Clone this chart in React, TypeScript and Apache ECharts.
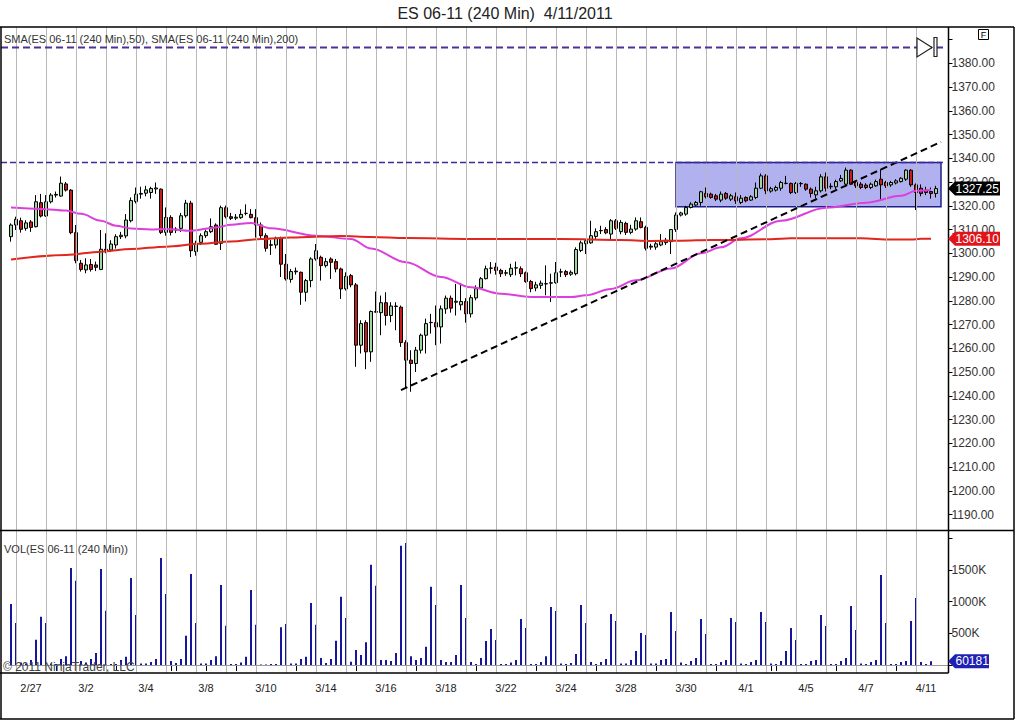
import React, { useEffect, useRef } from 'react';
import * as echarts from 'echarts';

const FONT = '"Liberation Sans", Arial, sans-serif';

// 240-minute bars, index 0..185
const opens = [
  1307.0,1311.9,1313.7,1310.5,1313.2,1311.2,1321.3,1315.7,1321.7,1324.5,
  1324.1,1329.2,1326.6,1308.7,1295.8,1293.0,1295.3,1295.1,1293.2,1301.7,
  1301.4,1303.5,1307.0,1307.3,1313.7,1321.8,1324.9,1325.3,1325.6,1327.1,
  1327.0,1308.8,1315.1,1309.8,1310.5,1315.8,1321.1,1300.7,1304.6,1307.4,
  1309.1,1311.9,1304.2,1319.2,1315.4,1314.8,1315.0,1316.8,1316.4,1315.0,
  1311.9,1307.4,1303.6,1303.5,1306.3,1295.4,1289.0,1292.5,1292.0,1283.6,
  1288.5,1297.6,1298.3,1294.8,1297.6,1296.5,1293.4,1285.0,1290.6,1286.7,
  1261.3,1270.8,1258.5,1275.5,1275.0,1279.2,1273.8,1277.6,1277.3,1262.4,
  1255.0,1253.6,1259.2,1265.5,1270.8,1270.8,1269.0,1276.6,1281.1,1279.4,
  1278.3,1279.7,1274.5,1281.2,1285.4,1289.3,1293.7,1294.2,1292.8,1291.6,
  1291.0,1293.8,1293.5,1291.8,1288.1,1285.4,1286.5,1287.2,1287.4,1287.6,
  1292.1,1292.3,1291.2,1291.4,1301.2,1304.0,1304.4,1307.1,1309.5,1310.0,
  1308.1,1313.7,1309.1,1312.6,1308.8,1310.2,1313.3,1310.9,1303.0,1302.6,
  1303.5,1304.5,1304.9,1310.0,1316.1,1316.5,1319.3,1320.3,1321.4,1325.2,
  1324.9,1324.2,1322.4,1325.2,1322.8,1323.8,1321.4,1323.5,1322.4,1323.5,
  1327.4,1332.6,1326.2,1326.6,1327.4,1329.4,1329.4,1325.6,1329.4,1329.1,
  1327.0,1324.6,1326.3,1332.2,1328.0,1328.0,1330.5,1329.1,1335.0,1329.8,
  1329.1,1328.7,1327.7,1328.4,1331.2,1329.8,1328.8,1329.6,1330.2,1331.2,
  1335.0,1328.8,1327.4,1326.6,1326.0,1325.2,
];
const closes = [
  1311.9,1314.3,1310.1,1312.8,1310.9,1321.7,1315.7,1321.7,1324.5,1324.8,
  1329.5,1326.6,1308.7,1296.9,1293.2,1295.1,1293.2,1294.1,1301.7,1301.2,
  1303.9,1307.0,1307.6,1314.0,1322.2,1324.9,1325.2,1326.7,1327.3,1327.5,
  1308.8,1315.1,1308.8,1310.2,1315.8,1321.1,1301.1,1304.2,1307.4,1309.1,
  1311.2,1303.8,1319.2,1315.4,1314.7,1315.2,1316.4,1316.8,1315.0,1311.9,
  1307.4,1302.1,1303.4,1306.3,1295.4,1289.2,1292.3,1292.2,1283.6,1288.5,
  1297.6,1301.1,1294.8,1296.5,1296.2,1293.4,1285.0,1290.3,1286.7,1261.3,
  1270.4,1258.5,1275.5,1275.2,1279.2,1273.8,1277.8,1277.8,1262.4,1255.0,
  1253.6,1259.2,1265.5,1270.4,1270.9,1269.0,1276.6,1281.1,1276.9,1279.8,
  1279.7,1274.5,1281.3,1285.1,1289.3,1293.5,1293.8,1292.8,1291.4,1291.8,
  1293.7,1293.9,1291.4,1288.1,1285.1,1286.7,1287.4,1287.1,1287.6,1291.8,
  1292.2,1291.0,1292.0,1301.6,1304.4,1305.3,1307.4,1309.1,1309.6,1308.6,
  1313.7,1310.5,1313.0,1308.8,1310.2,1313.7,1310.9,1302.1,1302.6,1304.0,
  1304.9,1305.5,1310.0,1316.1,1317.0,1319.3,1320.7,1321.4,1325.9,1323.8,
  1323.5,1322.8,1324.9,1323.2,1324.2,1322.1,1323.2,1322.1,1323.8,1327.4,
  1332.6,1326.3,1327.2,1327.7,1329.8,1329.5,1325.6,1329.4,1329.3,1327.0,
  1325.2,1326.3,1332.2,1327.4,1328.2,1330.2,1331.5,1335.0,1329.1,1328.4,
  1327.7,1327.7,1329.1,1330.2,1328.8,1328.4,1329.8,1330.5,1331.6,1335.0,
  1328.8,1325.6,1325.2,1325.6,1325.2,1327.25,
];
const lows = [
  1304.9,1309.8,1308.7,1309.5,1309.0,1310.9,1315.1,1315.4,1321.0,1323.5,
  1323.8,1326.0,1308.0,1295.8,1292.3,1291.6,1292.3,1292.5,1292.9,1300.0,
  1300.5,1302.0,1306.0,1306.3,1313.0,1321.0,1323.0,1324.0,1323.0,1325.0,
  1308.1,1307.4,1307.5,1308.5,1309.0,1315.0,1298.4,1299.0,1303.5,1306.5,
  1308.5,1303.5,1301.4,1314.7,1314.0,1314.0,1314.5,1316.0,1314.7,1306.6,
  1306.3,1300.7,1299.3,1302.0,1290.0,1288.5,1287.6,1291.0,1278.3,1279.7,
  1285.7,1296.9,1288.5,1294.0,1289.2,1292.0,1280.8,1284.3,1285.7,1252.2,
  1257.8,1251.2,1254.3,1275.0,1265.5,1269.6,1271.0,1267.6,1260.6,1243.1,
  1241.7,1250.0,1257.8,1257.8,1266.2,1261.3,1262.0,1274.5,1275.0,1273.8,
  1276.0,1270.8,1273.0,1280.2,1285.0,1289.0,1291.4,1291.0,1290.0,1290.5,
  1290.0,1290.7,1290.0,1287.6,1283.6,1284.0,1285.0,1282.3,1279.5,1287.2,
  1290.0,1290.0,1290.5,1290.7,1300.5,1299.7,1304.0,1306.0,1308.1,1308.0,
  1305.3,1309.8,1308.0,1307.7,1308.0,1309.5,1310.5,1301.2,1301.5,1301.5,
  1303.0,1303.5,1299.7,1309.0,1315.5,1315.8,1318.9,1319.8,1320.0,1323.1,
  1323.0,1322.0,1321.5,1322.5,1322.0,1320.8,1320.7,1321.5,1322.0,1322.8,
  1327.0,1324.9,1325.5,1326.0,1326.3,1329.0,1324.9,1325.0,1328.0,1326.3,
  1323.5,1323.0,1325.6,1326.0,1327.0,1327.0,1330.0,1328.8,1328.7,1327.5,
  1327.0,1327.0,1327.0,1328.0,1322.1,1327.5,1328.0,1329.0,1329.8,1330.5,
  1328.0,1318.2,1324.0,1324.5,1323.0,1323.5,
];
const highs = [
  1312.6,1315.4,1315.0,1313.9,1314.0,1324.5,1325.0,1324.5,1325.3,1326.0,
  1332.3,1330.0,1327.0,1311.9,1297.2,1297.9,1297.6,1296.5,1309.8,1308.4,
  1305.5,1308.0,1309.0,1316.5,1323.5,1327.7,1328.0,1328.4,1328.0,1329.8,
  1327.3,1319.3,1316.0,1311.0,1317.0,1322.5,1322.1,1305.3,1308.4,1310.0,
  1314.7,1312.6,1320.1,1320.1,1317.0,1316.5,1318.5,1320.6,1318.6,1318.6,
  1313.0,1308.4,1305.6,1307.0,1307.0,1299.7,1293.4,1294.0,1292.3,1289.2,
  1298.3,1303.9,1299.0,1298.0,1298.3,1297.6,1294.0,1292.0,1291.3,1287.5,
  1271.8,1271.8,1275.9,1283.9,1282.2,1283.6,1279.4,1279.4,1278.0,1263.4,
  1259.2,1260.6,1266.2,1272.5,1274.5,1278.0,1278.0,1282.2,1282.2,1287.1,
  1287.5,1281.1,1282.5,1286.5,1290.0,1294.8,1296.3,1296.0,1293.5,1293.0,
  1295.6,1296.5,1294.5,1292.3,1288.8,1288.0,1288.5,1294.9,1291.4,1296.3,
  1293.5,1293.0,1292.8,1302.5,1305.3,1306.0,1313.7,1310.5,1311.6,1311.0,
  1314.4,1314.4,1314.0,1313.3,1312.0,1315.1,1315.1,1311.6,1304.0,1305.0,
  1308.1,1306.5,1310.2,1317.2,1317.5,1320.0,1321.5,1322.0,1326.3,1327.7,
  1325.5,1325.0,1326.0,1325.8,1325.0,1325.6,1324.5,1324.0,1324.5,1329.8,
  1333.6,1333.3,1328.0,1328.5,1330.5,1332.6,1329.8,1330.0,1330.0,1329.4,
  1327.7,1328.0,1333.3,1334.0,1329.5,1331.0,1333.0,1336.1,1335.4,1330.5,
  1330.0,1329.5,1329.8,1331.0,1335.4,1330.5,1330.5,1331.2,1332.0,1335.4,
  1335.4,1329.4,1329.0,1328.0,1327.7,1328.4,
];
// volume in thousands of contracts
const volumesK = [
  963,663,40,25,80,400,763,663,25,15,
  95,140,1531,1331,63,40,95,190,1515,857,
  15,15,80,130,1373,789,25,25,47,95,
  1688,1120,63,30,95,463,1436,663,25,25,
  80,140,1262,620,15,15,40,130,1183,636,
  10,10,15,15,594,647,25,25,95,130,
  978,636,110,30,95,384,1078,742,53,237,
  158,358,1583,1252,80,80,63,190,1883,1925,
  140,80,110,289,1236,947,80,47,47,158,
  1262,742,47,15,110,379,568,395,15,15,
  40,80,726,584,15,15,47,140,915,852,
  25,15,30,174,947,663,47,15,47,95,
  805,694,25,25,80,221,505,473,25,25,
  80,95,836,536,40,15,63,110,726,489,
  15,15,47,80,742,678,25,15,47,80,
  836,678,25,15,63,221,584,395,15,15,
  63,80,789,615,15,15,63,110,931,552,
  25,15,47,80,1420,663,15,15,47,63,
  694,1057,47,15,60.181,null,
];
// moving averages: [bar index, value]
const sma50 = [
  [0,1319.3],[6,1318.7],[11,1318.0],[14,1316.6],[18,1313.7],[21,1311.6],[24,1310.4],
  [28,1310.0],[31,1310.2],[36,1309.5],[41,1310.9],[44,1312.0],[48,1312.8],[52,1310.5],
  [61,1307.4],[68,1306.0],[72,1302.0],[79,1296.2],[86,1290.0],[92,1285.7],[98,1283.0],
  [104,1281.6],[112,1281.6],[115,1282.3],[120,1285.0],[125,1288.6],[132,1293.6],
  [138,1300.0],[142,1302.5],[146,1306.3],[154,1313.7],[163,1319.2],[171,1321.3],
  [178,1324.2],[181,1326.3],[184,1326.6],
];
const sma200 = [
  [0,1297.4],[11,1299.3],[18,1300.7],[24,1301.8],[31,1302.8],[38,1304.0],[44,1305.0],
  [50,1306.0],[56,1306.7],[66,1307.3],[72,1306.9],[79,1306.4],[92,1306.0],[110,1306.0],
  [122,1305.6],[128,1305.2],[134,1305.3],[140,1305.6],[152,1305.9],[156,1306.3],
  [170,1306.3],[176,1305.8],[180,1305.8],[182,1306.1],[184,1306.1],
];
const xLabelIdx = [4,15,27,39,51,63,75,87,99,111,123,135,147,159,171,183];
const xLabelText = ['2/27','3/2','3/4','3/8','3/10','3/14','3/16','3/18','3/22','3/24','3/28','3/30','4/1','4/5','4/7','4/11'];
const xTickIdx = [9,21,32,33,39,45,57,69,81,91,93,105,111,117,129,141,152,153,165,177];
const dayLineIdx = [1,7,13,19,25,31,37,43,49,55,61,67,73,79,85,91,97,103,109,115,121,127,133,139,145,151,157,163,169,175,181];
const priceLabels = [1190,1200,1210,1220,1230,1240,1250,1260,1270,1280,1290,1300,1310,1320,1330,1340,1350,1360,1370,1380];
const volLabels = [500000, 1000000, 1500000];

const upperLevel = 1386.6;
const resistanceLevel = 1338.2;
const boxRange = { start: 133, end: 186, top: 1338.2, bottom: 1319.6 };
const trendFrom = [78, 1242.4];
const trendTo = [186, 1346.9];
const sma200Last = 1306.1;

const N = 188;
const cats = Array.from({ length: N }, (_, i) => String(i));
const candleData = opens.map((o, i) => [o, closes[i], lows[i], highs[i]]);
const volData = volumesK.map((v) => (v == null ? null : Math.round(v * 1000)));
const labelMap = new Map(xLabelIdx.map((idx, k) => [idx, xLabelText[k]]));
const tickSet = new Set(xTickIdx);
const lastPrice = closes[closes.length - 1];
const lastVolume = volData.filter((v) => v != null).slice(-1)[0] as number;

const noLabel = { show: false };

function buildOption(): any {
  return {
    animation: false,
    backgroundColor: '#ffffff',
    textStyle: { fontFamily: FONT },
    grid: [
      { left: 8.5, top: 27, width: 940, height: 503 },
      { left: 8.5, top: 531, width: 940, height: 142 },
    ],
    xAxis: [
      { type: 'category', gridIndex: 0, data: cats, boundaryGap: true, show: false },
      {
        type: 'category', gridIndex: 1, data: cats, boundaryGap: true,
        axisLine: { show: false },
        axisTick: { show: true, alignWithLabel: true, length: 6, interval: (i: number) => tickSet.has(i), lineStyle: { color: '#000', width: 1 } },
        axisLabel: {
          interval: (i: number) => labelMap.has(i),
          formatter: (_v: string, i: number) => labelMap.get(i) ?? '',
          fontSize: 11, color: '#222', margin: 9, fontFamily: FONT,
        },
        splitLine: { show: false },
      },
    ],
    yAxis: [
      {
        type: 'value', gridIndex: 0, position: 'right', min: 1183.49, max: 1395.28,
        minInterval: 10, maxInterval: 10,
        axisLine: { show: false },
        axisTick: { show: true, length: 4, lineStyle: { color: '#000' } },
        axisLabel: {
          showMinLabel: false, showMaxLabel: false, margin: 3, fontSize: 12, color: '#333', fontFamily: FONT,
          formatter: (v: number) => (priceLabels.includes(Math.round(v)) && Math.abs(v - Math.round(v)) < 1e-6 ? v.toFixed(2) : ''),
        },
        splitLine: { show: false },
      },
      {
        type: 'value', gridIndex: 1, position: 'right', min: -126000, max: 2114000,
        minInterval: 500000, maxInterval: 500000,
        axisLine: { show: false },
        axisTick: { show: true, length: 4, lineStyle: { color: '#000' } },
        axisLabel: {
          showMinLabel: false, showMaxLabel: false, margin: 3, fontSize: 12, color: '#333', fontFamily: FONT,
          formatter: (v: number) => (volLabels.includes(v) ? `${v / 1000}K` : ''),
        },
        splitLine: { show: false },
      },
    ],
    series: [
      {
        type: 'line', xAxisIndex: 0, yAxisIndex: 0, data: [], z: 1, silent: true,
        markLine: {
          silent: true, symbol: ['none', 'none'], label: noLabel, animation: false,
          lineStyle: { color: '#b9b9b9', width: 1, type: 'solid' },
          emphasis: { disabled: true },
          data: dayLineIdx.map((i) => ({ xAxis: i })),
        },
      },
      {
        type: 'line', xAxisIndex: 1, yAxisIndex: 1, data: [], z: 1, silent: true,
        markLine: {
          silent: true, symbol: ['none', 'none'], label: noLabel, animation: false,
          lineStyle: { color: '#b9b9b9', width: 1, type: 'solid' },
          emphasis: { disabled: true },
          data: [...dayLineIdx.map((i) => ({ xAxis: i })), { yAxis: 0, lineStyle: { color: '#9a9a9a', width: 1, type: 'solid' } }],
        },
      },
      {
        type: 'candlestick', name: 'ES 06-11', xAxisIndex: 0, yAxisIndex: 0, data: candleData, z: 2,
        barWidth: 4,
        itemStyle: { color: '#9fd89f', color0: '#c81c1c', borderColor: '#000', borderColor0: '#000', borderWidth: 1 },
      },
      {
        type: 'line', name: 'SMA50', xAxisIndex: 0, yAxisIndex: 0, data: sma50, z: 3,
        showSymbol: false, smooth: 0.35, smoothMonotone: 'x',
        lineStyle: { color: '#dc3fdc', width: 2 },
      },
      {
        type: 'line', name: 'SMA200', xAxisIndex: 0, yAxisIndex: 0, data: sma200, z: 3,
        showSymbol: false, smooth: 0.35, smoothMonotone: 'x',
        lineStyle: { color: '#e0261e', width: 2 },
      },
      {
        type: 'line', xAxisIndex: 0, yAxisIndex: 0, data: [], z: 4, silent: true,
        markArea: {
          silent: true, label: noLabel,
          itemStyle: { color: 'rgba(100,100,225,0.5)', borderColor: '#20208c', borderWidth: 1.5 },
          data: [[{ xAxis: boxRange.start, yAxis: boxRange.top }, { xAxis: boxRange.end, yAxis: boxRange.bottom }]],
        },
      },
      {
        type: 'line', xAxisIndex: 0, yAxisIndex: 0, data: [], z: 5, silent: true,
        markLine: {
          silent: true, symbol: ['none', 'none'], label: noLabel,
          lineStyle: { color: '#000', width: 2, type: [7, 4] },
          data: [[{ coord: trendFrom }, { coord: trendTo }]],
        },
      },
      {
        type: 'bar', name: 'VOL', xAxisIndex: 1, yAxisIndex: 1, data: volData, z: 2,
        barWidth: 2, itemStyle: { color: '#16169c' },
      },
    ],
  };
}

export default function App() {
  const ref = useRef<HTMLDivElement>(null);
  useEffect(() => {
    const chart = echarts.init(ref.current as HTMLDivElement, null, { renderer: 'svg' });
    chart.setOption(buildOption());
    const py = (axis: number, v: number) => chart.convertToPixel({ yAxisIndex: axis }, v) as number;
    const yLast = py(0, lastPrice);
    const yS200 = py(0, sma200Last);
    const yVol = py(1, lastVolume);
    const yUpper = py(0, upperLevel);
    const yRes = py(0, resistanceLevel);
    const frame = { stroke: '#000', lineWidth: 1.5 };
    const line = (x1: number, y1: number, x2: number, y2: number) => ({
      type: 'line', z: 30, silent: true, shape: { x1, y1, x2, y2 }, style: frame,
    });
    const tag = (y: number, text: string, color: string, w: number) => [
      {
        type: 'polygon', z: 40, silent: true,
        shape: { points: [[948, y], [955, y - 7], [948 + w, y - 7], [948 + w, y + 7], [955, y + 7]] },
        style: { fill: color },
      },
      {
        type: 'text', z: 41, silent: true, x: 955.5, y,
        style: { text, fill: '#fff', font: `12px ${FONT}`, verticalAlign: 'middle', align: 'left' },
      },
    ];
    const txt = (x: number, y: number, text: string, size: number, fill: string, align = 'left') => ({
      type: 'text', z: 35, silent: true, x, y,
      style: { text, fill, font: `${size}px ${FONT}`, align, verticalAlign: 'middle' },
    });
    chart.setOption({
      graphic: [
        txt(505, 13, 'ES 06-11 (240 Min)  4/11/2011', 16, '#222', 'center'),
        txt(4, 39, 'SMA(ES 06-11 (240 Min),50), SMA(ES 06-11 (240 Min),200)', 11, '#333'),
        txt(4, 549, 'VOL(ES 06-11 (240 Min))', 11, '#333'),
        txt(3, 667, '\u00a9 2011 NinjaTrader, LLC', 12, '#444'),
        {
          type: 'line', z: 20, silent: true, shape: { x1: 1, y1: yUpper, x2: 946, y2: yUpper },
          style: { stroke: '#4f2f98', lineWidth: 2, lineDash: [7, 4] },
        },
        {
          type: 'line', z: 20, silent: true, shape: { x1: 1, y1: yRes, x2: 946, y2: yRes },
          style: { stroke: '#3a2a9c', lineWidth: 1.6, lineDash: [6, 3] },
        },
        {
          type: 'polygon', z: 25, silent: true, shape: { points: [[917, 38], [932, 47.5], [917, 57]] },
          style: { fill: '#fff', stroke: '#222', lineWidth: 1.2 },
        },
        { type: 'rect', z: 25, silent: true, shape: { x: 934, y: 37.5, width: 3, height: 19 }, style: { fill: '#fff', stroke: '#222', lineWidth: 1.2 } },
        { type: 'rect', z: 25, silent: true, shape: { x: 978.5, y: 29.5, width: 10, height: 10 }, style: { fill: '#fff', stroke: '#000', lineWidth: 1 } },
        txt(983.5, 34.8, 'F', 9, '#000', 'center'),
        line(0, 27, 1014, 27),
        line(1, 27, 1, 719),
        line(1014, 27, 1014, 719),
        line(0, 719, 1014, 719),
        line(0, 530.5, 1014, 530.5),
        line(0, 673, 948.5, 673),
        line(948.5, 27, 948.5, 673),
        ...tag(yLast, lastPrice.toFixed(2), '#000', 52),
        ...tag(yS200, sma200Last.toFixed(2), '#e0141a', 52),
        ...tag(yVol, String(Math.round(lastVolume)), '#2020b4', 41),
      ],
    });
    return () => chart.dispose();
  }, []);
  return (
    <div
      ref={ref}
      style={{ position: 'absolute', left: 0, top: 0, width: 1016, height: 720, background: '#fff' }}
    />
  );
}
